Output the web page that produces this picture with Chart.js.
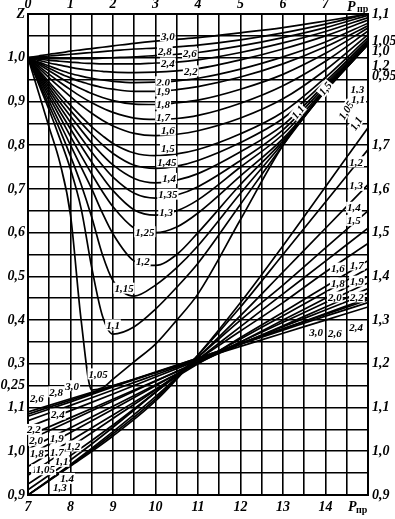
<!DOCTYPE html>
<html>
<head>
<meta charset="utf-8">
<script src="https://cdn.jsdelivr.net/npm/chart.js@4.4.1/dist/chart.umd.min.js"></script>
<style>
  html, body { margin: 0; padding: 0; background: #fff; }
  #wrap { width: 395px; height: 519px; position: relative; }
</style>
</head>
<body>
<div id="wrap"><canvas id="chart"></canvas></div>
<script>
// верхнее семейство: Pпр 0..8 (верхняя шкала), Z по левой шкале
const pUpper = [0, 0.25, 0.5, 0.75, 1, 1.25, 1.5, 1.75, 2, 2.5, 3, 3.5, 4, 5, 6, 7, 8];
const tUpper = ['3,0', '2,8', '2,6', '2,4', '2,2', '2,0', '1,9', '1,8', '1,7', '1,6',
                '1,5', '1,45', '1,4', '1,35', '1,3', '1,25', '1,2', '1,15', '1,1', '1,05'];
const zUpper = [
  [1, 1.004, 1.008, 1.011, 1.015, 1.018, 1.021, 1.024, 1.027, 1.033, 1.038, 1.042, 1.046, 1.057, 1.069, 1.084, 1.1],
  [1, 1.002, 1.004, 1.006, 1.008, 1.010, 1.012, 1.014, 1.016, 1.020, 1.022, 1.025, 1.029, 1.041, 1.057, 1.077, 1.1],
  [1, 0.999, 0.998, 0.998, 0.998, 0.998, 0.998, 0.999, 1.000, 1.002, 1.005, 1.008, 1.012, 1.027, 1.046, 1.069, 1.097],
  [1, 0.997, 0.994, 0.992, 0.990, 0.988, 0.987, 0.986, 0.986, 0.986, 0.988, 0.990, 0.995, 1.012, 1.034, 1.060, 1.092],
  [1, 0.994, 0.988, 0.983, 0.978, 0.974, 0.971, 0.969, 0.967, 0.966, 0.967, 0.970, 0.975, 0.995, 1.020, 1.050, 1.086],
  [1, 0.990, 0.981, 0.972, 0.964, 0.958, 0.953, 0.949, 0.946, 0.943, 0.944, 0.947, 0.953, 0.974, 1.002, 1.036, 1.079],
  [1, 0.988, 0.976, 0.964, 0.954, 0.945, 0.938, 0.932, 0.928, 0.923, 0.923, 0.927, 0.934, 0.956, 0.986, 1.025, 1.073],
  [1, 0.985, 0.970, 0.955, 0.941, 0.929, 0.918, 0.909, 0.902, 0.894, 0.893, 0.897, 0.903, 0.928, 0.962, 1.010, 1.068],
  [1, 0.981, 0.962, 0.944, 0.927, 0.911, 0.897, 0.885, 0.875, 0.862, 0.859, 0.861, 0.868, 0.896, 0.936, 0.992, 1.061],
  [1, 0.977, 0.954, 0.932, 0.911, 0.891, 0.873, 0.857, 0.844, 0.827, 0.822, 0.825, 0.833, 0.862, 0.906, 0.972, 1.053],
  [1, 0.972, 0.944, 0.917, 0.891, 0.866, 0.842, 0.822, 0.804, 0.782, 0.776, 0.780, 0.790, 0.826, 0.876, 0.955, 1.046],
  [1, 0.969, 0.938, 0.908, 0.879, 0.851, 0.825, 0.801, 0.781, 0.754, 0.747, 0.752, 0.765, 0.806, 0.861, 0.946, 1.041],
  [1, 0.966, 0.932, 0.898, 0.866, 0.835, 0.805, 0.778, 0.755, 0.724, 0.714, 0.720, 0.735, 0.785, 0.846, 0.940, 1.037],
  [1, 0.963, 0.925, 0.888, 0.852, 0.817, 0.784, 0.754, 0.727, 0.690, 0.679, 0.686, 0.705, 0.765, 0.835, 0.935, 1.034],
  [1, 0.959, 0.918, 0.877, 0.837, 0.798, 0.761, 0.727, 0.696, 0.652, 0.640, 0.650, 0.675, 0.750, 0.825, 0.930, 1.032],
  [1, 0.955, 0.910, 0.865, 0.820, 0.776, 0.734, 0.694, 0.659, 0.610, 0.600, 0.613, 0.645, 0.730, 0.815, 0.926, 1.030],
  [1, 0.950, 0.900, 0.850, 0.800, 0.750, 0.700, 0.645, 0.597, 0.535, 0.525, 0.550, 0.600, 0.710, 0.810, 0.924, 1.030],
  [1, 0.945, 0.890, 0.835, 0.775, 0.710, 0.635, 0.550, 0.490, 0.455, 0.480, 0.520, 0.570, 0.690, 0.805, 0.924, 1.030],
  [1, 0.940, 0.880, 0.815, 0.745, 0.655, 0.520, 0.410, 0.368, 0.385, 0.425, 0.475, 0.530, 0.665, 0.800, 0.925, 1.032],
  [1, 0.920, 0.840, 0.760, 0.640, 0.400, 0.240, 0.245, 0.265, 0.305, 0.345, 0.400, 0.460, 0.630, 0.800, 0.928, 1.035]
];
// подписи кривых верхнего семейства: [Pпр, Z]
const posUpper = [
  [3.29, 1.05], [3.22, 1.016], [3.81, 1.01], [3.29, 0.988], [3.83, 0.97], [3.18, 0.945],
  [3.18, 0.924], [3.18, 0.894], [3.18, 0.865], [3.29, 0.835], [3.29, 0.793], [3.27, 0.762],
  [3.32, 0.724], [3.29, 0.688], [3.25, 0.647], [2.75, 0.602], [2.7, 0.535], [2.26, 0.473],
  [2.0, 0.389], [1.65, 0.277]
];

// нижнее семейство: Pпр 7..15 (нижняя шкала), Z по правой шкале
const pLower = [7, 8, 9, 10, 11, 12, 13, 14, 15];
const tLower = ['3,0', '2,8', '2,6', '2,4', '2,2', '2,0', '1,9', '1,8', '1,7', '1,6',
                '1,5', '1,4', '1,3', '1,2', '1,1', '1,05'];
const zLower = [
  [1.090, 1.120, 1.150, 1.180, 1.210, 1.240, 1.270, 1.300, 1.330],
  [1.085, 1.117, 1.149, 1.181, 1.213, 1.245, 1.277, 1.309, 1.340],
  [1.080, 1.113, 1.147, 1.180, 1.213, 1.247, 1.280, 1.313, 1.346],
  [1.070, 1.105, 1.140, 1.175, 1.210, 1.245, 1.280, 1.315, 1.350],
  [1.055, 1.093, 1.131, 1.170, 1.208, 1.246, 1.285, 1.323, 1.362],
  [1.035, 1.077, 1.119, 1.161, 1.203, 1.245, 1.287, 1.330, 1.372],
  [1.025, 1.070, 1.115, 1.160, 1.205, 1.250, 1.295, 1.340, 1.385],
  [1.005, 1.054, 1.103, 1.152, 1.201, 1.250, 1.300, 1.350, 1.400],
  [0.990, 1.043, 1.096, 1.150, 1.203, 1.257, 1.310, 1.364, 1.418],
  [0.965, 1.024, 1.083, 1.142, 1.200, 1.260, 1.318, 1.377, 1.436],
  [0.945, 1.010, 1.075, 1.140, 1.210, 1.275, 1.340, 1.410, 1.475],
  [0.925, 0.990, 1.060, 1.135, 1.210, 1.285, 1.360, 1.435, 1.510],
  [0.912, 0.980, 1.055, 1.135, 1.215, 1.300, 1.380, 1.465, 1.550],
  [0.900, 0.970, 1.045, 1.125, 1.215, 1.310, 1.410, 1.510, 1.610],
  [0.900, 0.968, 1.040, 1.120, 1.220, 1.330, 1.450, 1.570, 1.690],
  [0.900, 0.966, 1.035, 1.115, 1.220, 1.340, 1.470, 1.605, 1.740]
];
// подписи нижнего семейства: слева и справа, [Pпр, Z]
const posLowerLeft = [
  [8.04, 1.15], [7.66, 1.136], [7.21, 1.122], [7.7, 1.085], [7.14, 1.05], [7.19, 1.025],
  [7.68, 1.03], [7.21, 0.996], [7.68, 0.999], [7.26, 0.958], null, [7.92, 0.938],
  [7.75, 0.917], [8.07, 1.012], [7.79, 0.977], [7.41, 0.958]
];
const posLowerRight = [
  [13.78, 1.272], null, [14.22, 1.271], [14.72, 1.284], [14.74, 1.353], [14.22, 1.353],
  [14.74, 1.389], [14.29, 1.385], [14.74, 1.426], [14.29, 1.419], [14.67, 1.528], [14.67, 1.558],
  [14.72, 1.608], [14.72, 1.662], [14.72, 1.750], [14.48, 1.780]
];

const fontSerif = '"Liberation Serif", "DejaVu Serif", serif';

const datasets = [];
zUpper.forEach((row, i) => {
  datasets.push({
    label: 'T ' + tUpper[i],
    data: pUpper.map((p, k) => ({ x: p, y: row[k] })),
    xAxisID: 'xUp', yAxisID: 'yUp',
    borderColor: '#000', borderWidth: 1.7, pointRadius: 0,
    cubicInterpolationMode: 'monotone', fill: false
  });
});
zLower.forEach((row, i) => {
  datasets.push({
    label: 'T ' + tLower[i],
    data: pLower.map((p, k) => ({ x: p, y: row[k] })),
    xAxisID: 'xLow', yAxisID: 'yLow',
    borderColor: '#000', borderWidth: 1.7, pointRadius: 0,
    cubicInterpolationMode: 'monotone', fill: false
  });
});

function tag(ctx, text, x, y, size, angle) {
  ctx.save();
  ctx.translate(x, y);
  if (angle) ctx.rotate(angle);
  ctx.font = 'italic bold ' + size + 'px ' + fontSerif;
  const w = ctx.measureText(text).width;
  ctx.fillStyle = '#fff';
  ctx.fillRect(-w / 2 - 1, -size / 2, w + 2, size);
  ctx.fillStyle = '#000';
  ctx.textAlign = 'center';
  ctx.textBaseline = 'middle';
  ctx.fillText(text, 0, 1);
  ctx.restore();
}

const curveLabels = {
  id: 'curveLabels',
  afterDatasetsDraw(chart) {
    const ctx = chart.ctx;
    const s = chart.scales;
    tUpper.forEach((t, i) => {
      const p = posUpper[i];
      tag(ctx, t, s.xUp.getPixelForValue(p[0]), s.yUp.getPixelForValue(p[1]), 11);
    });
    tLower.forEach((t, i) => {
      const a = posLowerLeft[i];
      if (a) tag(ctx, t, s.xLow.getPixelForValue(a[0]), s.yLow.getPixelForValue(a[1]), 11);
      const b = posLowerRight[i];
      if (b) tag(ctx, t, s.xLow.getPixelForValue(b[0]), s.yLow.getPixelForValue(b[1]), 11,
                 i >= 14 ? -1.0 : 0);
    });
    // подписи на пучке восходящих ветвей
    tag(ctx, '1,5', s.xUp.getPixelForValue(6.99), s.yUp.getPixelForValue(0.93), 11, -0.9);
    tag(ctx, '1,1', s.xUp.getPixelForValue(6.35), s.yUp.getPixelForValue(0.876), 11, -0.9);
    tag(ctx, '1,3', s.xUp.getPixelForValue(7.75), s.yUp.getPixelForValue(0.927), 11);
    tag(ctx, '1,1', s.xUp.getPixelForValue(7.77), s.yUp.getPixelForValue(0.906), 11);

    // правая шкала верхнего семейства и обозначения осей
    const ca = chart.chartArea;
    ctx.save();
    ctx.fillStyle = '#000';
    ctx.font = 'italic bold 14px ' + fontSerif;
    ctx.textAlign = 'left';
    ctx.textBaseline = 'middle';
    [['1,1', 1.1], ['1,05', 1.037], ['1,0', 1.014], ['1,2', 0.98], ['0,95', 0.958]].forEach(r => {
      ctx.fillText(r[0], ca.right + 4, s.yUp.getPixelForValue(r[1]));
    });
    ctx.fillText('P', ca.right - 21, 7);
    ctx.fillText('P', ca.right - 20, 507);
    ctx.font = 'bold 10px ' + fontSerif;
    ctx.fillText('пр', ca.right - 11, 9);
    ctx.fillText('пр', ca.right - 12, 510);
    ctx.restore();
  }
};

const tickFont = { family: fontSerif, size: 14, style: 'italic', weight: 'bold' };
const leftText = { 110: 'Z', 100: '1,0', 90: '0,9', 80: '0,8', 70: '0,7', 60: '0,6', 50: '0,5',
                   40: '0,4', 30: '0,3', 25: '0,25', 20: '1,1', 10: '1,0', 0: '0,9' };
const rightText = { 170: '1,7', 160: '1,6', 150: '1,5', 140: '1,4', 130: '1,3', 120: '1,2',
                    110: '1,1', 100: '1,0', 90: '0,9' };

new Chart(document.getElementById('chart'), {
  type: 'line',
  data: { datasets },
  options: {
    responsive: true,
    maintainAspectRatio: false,
    animation: false,
    layout: { padding: 0 },
    plugins: { legend: { display: false }, tooltip: { enabled: false } },
    scales: {
      xLow: {
        type: 'linear', position: 'bottom', min: 7, max: 15,
        grid: { color: '#000', lineWidth: 1.6, drawTicks: false },
        border: { color: '#000', width: 2 },
        ticks: {
          stepSize: 0.5, autoSkip: false, maxRotation: 0, padding: 4, color: '#000', font: tickFont,
          callback: v => (Number.isInteger(v) && v < 15 ? String(v) : '')
        },
        afterFit: sc => { sc.height = 24; }
      },
      xUp: {
        type: 'linear', position: 'top', min: 0, max: 8,
        grid: { display: false, drawTicks: false },
        border: { color: '#000', width: 2 },
        ticks: {
          stepSize: 1, autoSkip: false, maxRotation: 0, padding: 1, color: '#000', font: tickFont,
          callback: v => (v < 8 ? String(v) : '')
        },
        afterFit: sc => { sc.height = 14; }
      },
      yUp: {
        type: 'linear', position: 'left', min: 0, max: 1.1,
        grid: { color: '#000', lineWidth: 1.6, drawTicks: false },
        border: { color: '#000', width: 2 },
        ticks: {
          stepSize: 0.05, autoSkip: false, padding: 3, color: '#000', font: tickFont,
          callback: v => leftText[Math.round(v * 100)] || ''
        },
        afterFit: sc => { sc.width = 28; }
      },
      yLow: {
        type: 'linear', position: 'right', min: 0.9, max: 2.0,
        grid: { display: false, drawTicks: false },
        border: { color: '#000', width: 2 },
        ticks: {
          stepSize: 0.05, autoSkip: false, padding: 4, color: '#000', font: tickFont,
          callback: v => rightText[Math.round(v * 100)] || ''
        },
        afterFit: sc => { sc.width = 27; }
      }
    }
  },
  plugins: [curveLabels]
});
</script>
</body>
</html>
